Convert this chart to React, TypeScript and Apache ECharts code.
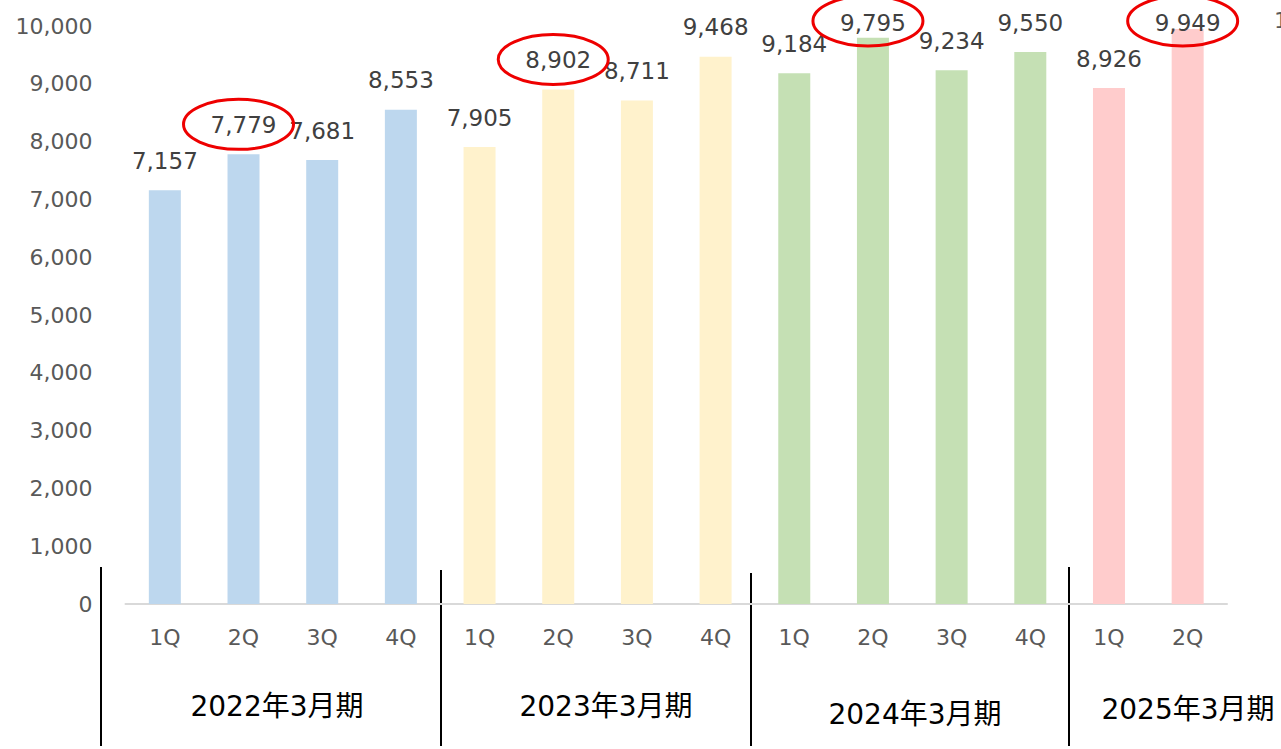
import React, { useEffect, useRef } from "react";
import * as echarts from "echarts";

const categories = ["1Q", "2Q", "3Q", "4Q", "1Q", "2Q", "3Q", "4Q", "1Q", "2Q", "3Q", "4Q", "1Q", "2Q"];
const values = [7157, 7779, 7681, 8553, 7905, 8902, 8711, 9468, 9184, 9795, 9234, 9550, 8926, 9949];
const fiscalYears = ["2022年3月期", "2023年3月期", "2024年3月期", "2025年3月期"];
const groupSizes = [4, 4, 4, 2];
const groupColors = ["#BDD7EE", "#FFF2CC", "#C5E0B4", "#FFCCCC"];
const highlighted = [1, 5, 9, 13];
const yMin = 0;
const yMax = 10000;
const yInterval = 1000;

// layout of annotations (not data)
const yearLabelPos = [[277, 706], [606, 706], [915, 714], [1188, 709]];
const separatorPos = [[101, 567], [441, 570], [751, 573], [1069, 567]];
const separatorBottom = 746;

const LABEL_FONT = "DejaVu Sans, Verdana, sans-serif";

export default function App() {
  const ref = useRef<HTMLDivElement>(null);
  useEffect(() => {
    if (!ref.current) return;
    const chart = echarts.init(ref.current, null, { renderer: "svg" });
    const colorOf: string[] = [];
    groupSizes.forEach((n, g) => {
      for (let i = 0; i < n; i++) colorOf.push(groupColors[g]);
    });
    chart.setOption({
      animation: false,
      grid: { left: 125.5, right: 54, top: 26, bottom: 145, containLabel: false },
      xAxis: {
        type: "category",
        data: categories,
        axisLine: { show: true, lineStyle: { color: "#D9D9D9", width: 2 } },
        axisTick: { show: false },
        axisLabel: { color: "#595959", fontSize: 22, fontFamily: LABEL_FONT, margin: 22, interval: 0 },
      },
      yAxis: {
        type: "value",
        min: yMin,
        max: yMax,
        interval: yInterval,
        axisLine: { show: false },
        axisTick: { show: false },
        splitLine: { show: false },
        axisLabel: {
          color: "#595959",
          fontSize: 22,
          fontFamily: LABEL_FONT,
          margin: 33,
          formatter: (v: number) => v.toLocaleString("en-US"),
        },
      },
      series: [
        {
          type: "bar",
          barWidth: 32,
          data: values.map((v, i) => ({ value: v, itemStyle: { color: colorOf[i] } })),
          label: {
            show: true,
            position: "top",
            distance: 18,
            color: "#404040",
            fontSize: 23,
            fontFamily: LABEL_FONT,
            formatter: (p: any) => Number(p.value).toLocaleString("en-US"),
          },
          labelLayout: (p: any) => {
            const r = p.labelRect;
            if (r && r.y < 11) {
              return { x: r.x + r.width / 2, y: 11, align: "center", verticalAlign: "top" };
            }
            return {};
          },
        },
      ],
    });

    const graphics: any[] = [];
    fiscalYears.forEach((t, i) => {
      graphics.push({
        type: "text",
        x: yearLabelPos[i][0],
        y: yearLabelPos[i][1],
        style: {
          text: t,
          fill: "#000000",
          fontSize: 28,
          fontFamily: "DejaVu Sans, Noto Sans CJK JP, sans-serif",
          align: "center",
          verticalAlign: "middle",
        },
      });
    });
    separatorPos.forEach(([x, y]) => {
      graphics.push({
        type: "line",
        shape: { x1: x, y1: y, x2: x, y2: separatorBottom },
        style: { stroke: "#000000", lineWidth: 2 },
      });
    });
    highlighted.forEach((idx) => {
      const p = chart.convertToPixel({ gridIndex: 0 }, [idx, values[idx]]) as number[];
      const labelCY = Math.max(p[1] - 29, 22);
      graphics.push({
        type: "ellipse",
        z: 100,
        shape: { cx: p[0] - 5, cy: labelCY - 1, rx: 55, ry: 25 },
        style: { fill: "none", stroke: "#EE0000", lineWidth: 3 },
      });
    });
    graphics.push({
      type: "text",
      x: 1274,
      y: 20,
      style: {
        text: "1",
        fill: "#595959",
        fontSize: 22,
        fontFamily: LABEL_FONT,
        align: "left",
        verticalAlign: "middle",
      },
    });
    chart.setOption({ graphic: graphics });

    return () => chart.dispose();
  }, []);
  return (
    <div
      ref={ref}
      style={{ position: "fixed", left: 0, top: 0, width: 1281, height: 749, background: "#fff" }}
    />
  );
}
